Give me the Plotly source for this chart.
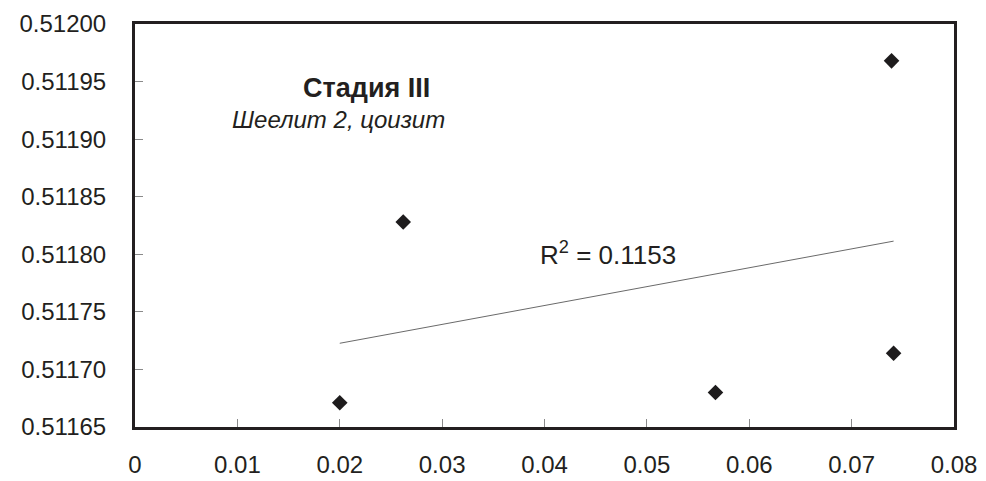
import numpy as np
import plotly.graph_objects as go

# Sm/Nd ratio vs 143Nd/144Nd for stage III samples
x_vals = [0.0200, 0.0262, 0.0567, 0.0741, 0.0739]
y_vals = [0.511671, 0.511828, 0.511680, 0.511714, 0.511968]

x_ticks = [0, 0.01, 0.02, 0.03, 0.04, 0.05, 0.06, 0.07, 0.08]
y_ticks = [0.51165, 0.51170, 0.51175, 0.51180, 0.51185, 0.51190, 0.51195, 0.51200]

title_text = "<b>Стадия III</b>"
subtitle_text = "<i>Шеелит 2, цоизит</i>"
r2_text = "R<sup>2</sup> = 0.1153"

# linear trend over the sample range
slope, intercept = np.polyfit(x_vals, y_vals, 1)
trend_x = [min(x_vals), max(x_vals)]
trend_y = [slope * v + intercept for v in trend_x]

font_family = "Liberation Sans, Arial, sans-serif"
ink = "#231f20"

fig = go.Figure()
fig.add_trace(go.Scatter(
    x=trend_x, y=trend_y, mode="lines",
    line=dict(color="#6a6a6a", width=1), hoverinfo="skip", showlegend=False,
))
fig.add_trace(go.Scatter(
    x=x_vals, y=y_vals, mode="markers",
    marker=dict(symbol="diamond", size=12, color="#1e1c1d"),
    showlegend=False,
))

fig.add_annotation(x=0.02266, y=0.5119440, text=title_text, showarrow=False,
                   font=dict(size=27, color=ink, family=font_family))
fig.add_annotation(x=0.01983, y=0.5119170, text=subtitle_text, showarrow=False,
                   font=dict(size=24, color=ink, family=font_family))
fig.add_annotation(x=0.0462, y=0.5118005, text=r2_text, showarrow=False,
                   font=dict(size=26, color=ink, family=font_family))

axis_common = dict(
    showgrid=False, zeroline=False, automargin=False,
    showline=True, linewidth=3, linecolor=ink, mirror=True,
    ticks="inside", ticklen=8, tickwidth=1, tickcolor="#8a8a8a",
    tickfont=dict(size=24, color=ink, family=font_family),
)

fig.update_xaxes(range=[0, 0.08], tickvals=x_ticks,
                 ticktext=[f"{v:g}" for v in x_ticks],
                 ticklabelstandoff=14, **axis_common)
fig.update_yaxes(range=[0.51165, 0.51200], tickvals=y_ticks,
                 ticktext=[f"{v:.5f}" for v in y_ticks],
                 ticklabelstandoff=21, **axis_common)

fig.update_layout(
    width=986, height=481,
    margin=dict(l=135, r=32, t=24, b=54),
    paper_bgcolor="white", plot_bgcolor="white",
    font=dict(family=font_family),
)

fig.write_html("out.html")
